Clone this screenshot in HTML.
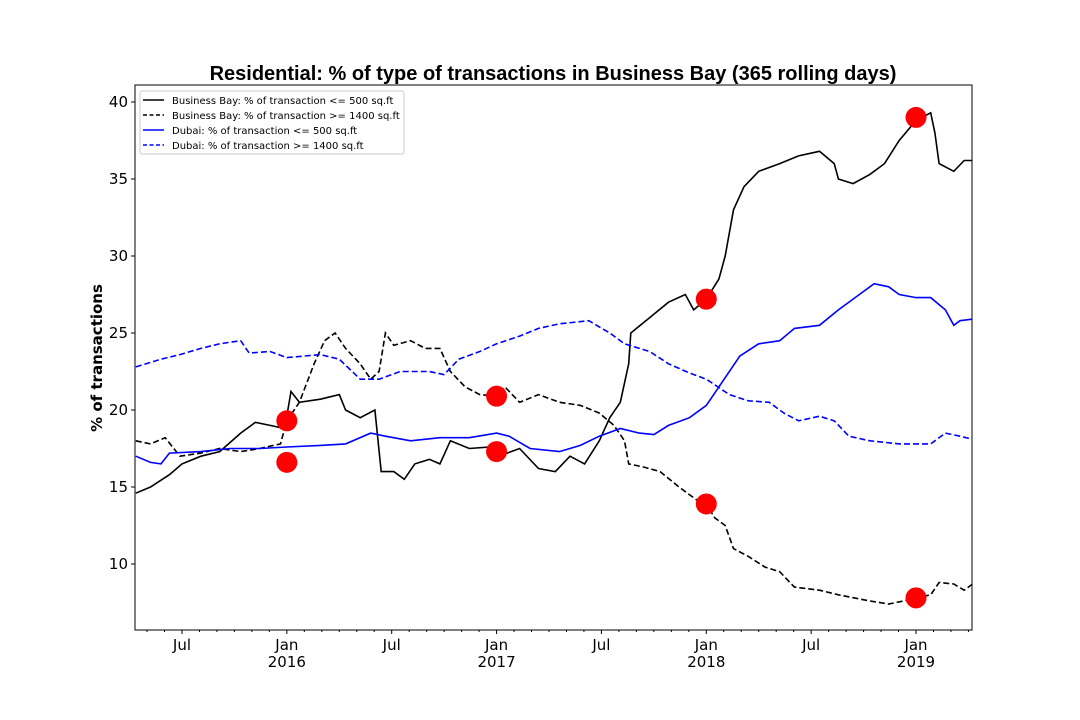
<!DOCTYPE html>
<html><head><meta charset="utf-8"><style>
body{margin:0;background:#fff;}
svg{display:block;font-family:"DejaVu Sans","Liberation Sans",sans-serif;}
</style></head><body>
<svg id="chart" width="1080" height="720"></svg>
<script>
const bbSmallT=[2015.28,2015.35,2015.44,2015.50,2015.59,2015.68,2015.78,2015.85,2015.92,2015.99,2016.02,2016.06,2016.16,2016.25,2016.28,2016.35,2016.42,2016.45,2016.51,2016.56,2016.61,2016.68,2016.73,2016.78,2016.87,2016.97,2017.01,2017.11,2017.20,2017.28,2017.35,2017.42,2017.49,2017.54,2017.59,2017.63,2017.64,2017.73,2017.82,2017.90,2017.94,2018.00,2018.06,2018.09,2018.13,2018.18,2018.25,2018.35,2018.44,2018.54,2018.61,2018.63,2018.70,2018.78,2018.85,2018.92,2019.00,2019.07,2019.09,2019.11,2019.18,2019.23,2019.27];
const bbSmallV=[14.6,15.0,15.8,16.5,17.0,17.3,18.5,19.2,19.0,18.8,21.2,20.5,20.7,21.0,20.0,19.5,20.0,16.0,16.0,15.5,16.5,16.8,16.5,18.0,17.5,17.6,17.0,17.5,16.2,16.0,17.0,16.5,18.0,19.5,20.5,23.0,25.0,26.0,27.0,27.5,26.5,27.2,28.5,30.0,33.0,34.5,35.5,36.0,36.5,36.8,36.0,35.0,34.7,35.3,36.0,37.5,38.8,39.3,38.0,36.0,35.5,36.2,36.2];
const bbLargeT=[2015.28,2015.35,2015.42,2015.49,2015.59,2015.68,2015.78,2015.87,2015.97,2016.00,2016.06,2016.13,2016.18,2016.23,2016.28,2016.35,2016.40,2016.44,2016.47,2016.51,2016.59,2016.66,2016.73,2016.78,2016.85,2016.92,2017.00,2017.04,2017.11,2017.20,2017.30,2017.40,2017.49,2017.56,2017.61,2017.63,2017.70,2017.78,2017.87,2017.97,2018.00,2018.04,2018.09,2018.13,2018.20,2018.28,2018.35,2018.42,2018.54,2018.63,2018.78,2018.87,2018.94,2019.00,2019.07,2019.11,2019.18,2019.23,2019.27];
const bbLargeV=[18.0,17.8,18.2,17.0,17.2,17.5,17.3,17.5,17.8,19.3,20.5,23.0,24.5,25.0,24.0,23.0,22.0,22.5,25.0,24.2,24.5,24.0,24.0,22.5,21.5,21.0,20.9,21.5,20.5,21.0,20.5,20.3,19.8,19.0,18.0,16.5,16.3,16.0,15.0,14.0,13.9,13.0,12.5,11.0,10.5,9.8,9.5,8.5,8.3,8.0,7.6,7.4,7.6,7.8,8.0,8.8,8.7,8.3,8.7];
const dxSmallT=[2015.28,2015.35,2015.40,2015.44,2015.59,2015.73,2015.87,2016.00,2016.16,2016.28,2016.40,2016.47,2016.59,2016.73,2016.87,2017.00,2017.06,2017.16,2017.30,2017.40,2017.49,2017.59,2017.68,2017.75,2017.82,2017.92,2018.00,2018.06,2018.16,2018.25,2018.35,2018.42,2018.54,2018.63,2018.73,2018.80,2018.87,2018.92,2019.00,2019.07,2019.14,2019.18,2019.21,2019.27];
const dxSmallV=[17.0,16.6,16.5,17.2,17.3,17.5,17.5,17.6,17.7,17.8,18.5,18.3,18.0,18.2,18.2,18.5,18.3,17.5,17.3,17.7,18.3,18.8,18.5,18.4,19.0,19.5,20.3,21.5,23.5,24.3,24.5,25.3,25.5,26.5,27.5,28.2,28.0,27.5,27.3,27.3,26.5,25.5,25.8,25.9];
const dxLargeT=[2015.28,2015.40,2015.49,2015.59,2015.68,2015.78,2015.82,2015.92,2016.00,2016.16,2016.25,2016.35,2016.44,2016.54,2016.68,2016.75,2016.82,2016.92,2017.00,2017.11,2017.20,2017.30,2017.44,2017.54,2017.61,2017.73,2017.82,2017.92,2018.00,2018.11,2018.20,2018.30,2018.37,2018.44,2018.54,2018.61,2018.68,2018.78,2018.92,2019.07,2019.14,2019.21,2019.27];
const dxLargeV=[22.8,23.3,23.6,24.0,24.3,24.5,23.7,23.8,23.4,23.6,23.3,22.0,22.0,22.5,22.5,22.3,23.3,23.8,24.3,24.8,25.3,25.6,25.8,25.0,24.3,23.8,23.0,22.4,22.0,21.0,20.6,20.5,19.8,19.3,19.6,19.3,18.3,18.0,17.8,17.8,18.5,18.3,18.1];
const markT=[2016.0,2016.0,2017.0,2017.0,2018.0,2018.0,2019.0,2019.0];
const markV=[19.3,16.6,20.9,17.3,27.2,13.9,39.0,7.8];
const yTicks=[10,15,20,25,30,35,40];
const years=[2016,2017,2018,2019];
const legendLabels=["Business Bay: % of transaction <= 500 sq.ft","Business Bay: % of transaction >= 1400 sq.ft","Dubai: % of transaction <= 500 sq.ft","Dubai: % of transaction >= 1400 sq.ft"];

const L=135,R=972,T=85,B=630;
const t0=2015.276,t1=2019.267;
function X(t){return L+(t-t0)/(t1-t0)*(R-L);}
function Y(v){return 564-(v-10)*15.4;}
const svg=document.getElementById('chart');
const NS="http://www.w3.org/2000/svg";
function mk(tag,attrs,parent){const e=document.createElementNS(NS,tag);for(const k in attrs)e.setAttribute(k,attrs[k]);(parent||svg).appendChild(e);return e;}

let t=mk('text',{x:553,y:80,'text-anchor':'middle','font-size':20,'font-weight':'bold','font-family':'"Liberation Sans",sans-serif'});
t.textContent="Residential: % of type of transactions in Business Bay (365 rolling days)";


t=mk('text',{x:0,y:0,transform:'translate(102,358) rotate(-90)','text-anchor':'middle','font-size':15,'font-weight':'bold'});
t.textContent="% of transactions";



// clip
const defs=mk('defs',{});const cp=mk('clipPath',{id:'clip'},defs);mk('rect',{x:L,y:T,width:R-L,height:B-T},cp);
const series=[[bbSmallT,bbSmallV,'#000',''],[bbLargeT,bbLargeV,'#000','6,3'],[dxSmallT,dxSmallV,'#0000ff',''],[dxLargeT,dxLargeV,'#0000ff','6,3']];
const names=['series-bb-small','series-bb-large','series-dubai-small','series-dubai-large'];
series.forEach((s,i)=>{
  const d=s[0].map((tt,j)=>(j?'L':'M')+X(tt).toFixed(1)+','+Y(s[1][j]).toFixed(1)).join('');
  const p=mk('path',{d:d,fill:'none',stroke:s[2],'stroke-width':1.6,'stroke-dasharray':s[3],'clip-path':'url(#clip)'});
  
  
});
markT.forEach((tt,i)=>{
  const c=mk('circle',{cx:X(tt),cy:Y(markV[i]),r:10.5,fill:'#ff0000'});
  
  
});
const frame=mk('rect',{x:L,y:T,width:R-L,height:B-T,fill:'none',stroke:'#000','stroke-width':1});


yTicks.forEach(v=>{
  mk('line',{x1:L-4,x2:L,y1:Y(v),y2:Y(v),stroke:'#000'});
  const tx=mk('text',{x:L-7,y:Y(v)+5,'text-anchor':'end','font-size':15});
  tx.textContent=v;
  
  
});
// monthly ticks
for(let y=2015;y<=2019;y++){for(let m=0;m<12;m++){const tt=y+m/12;if(tt<t0||tt>t1)continue;
  const major=(m===0||m===6);
  mk('line',{x1:X(tt),x2:X(tt),y1:B,y2:B+(major?4:2),stroke:'#000'});
  if(m===6){const tx=mk('text',{x:X(tt),y:B+20,'text-anchor':'middle','font-size':15});tx.textContent='Jul';
    
    }
}}
years.forEach(y=>{
  const tx=mk('text',{x:X(y),y:B+20,'text-anchor':'middle','font-size':15});tx.textContent='Jan';
  
  
  const ty=mk('text',{x:X(y),y:B+37,'text-anchor':'middle','font-size':15});ty.textContent=y;
  
  
});
// legend
const lg=mk('g',{});


mk('rect',{x:140,y:91,width:264,height:63,fill:'#fff',stroke:'#ccc',rx:2},lg);
legendLabels.forEach((lab,i)=>{
  const yy=100+i*15;
  mk('line',{x1:143,x2:164,y1:yy,y2:yy,stroke:series[i][2],'stroke-width':1.6,'stroke-dasharray':series[i][3]?'4,2.5':''},lg);
  const tx=mk('text',{x:172,y:yy+4,'font-size':10},lg);tx.textContent=lab;
  
  
});
</script>
</body></html>
